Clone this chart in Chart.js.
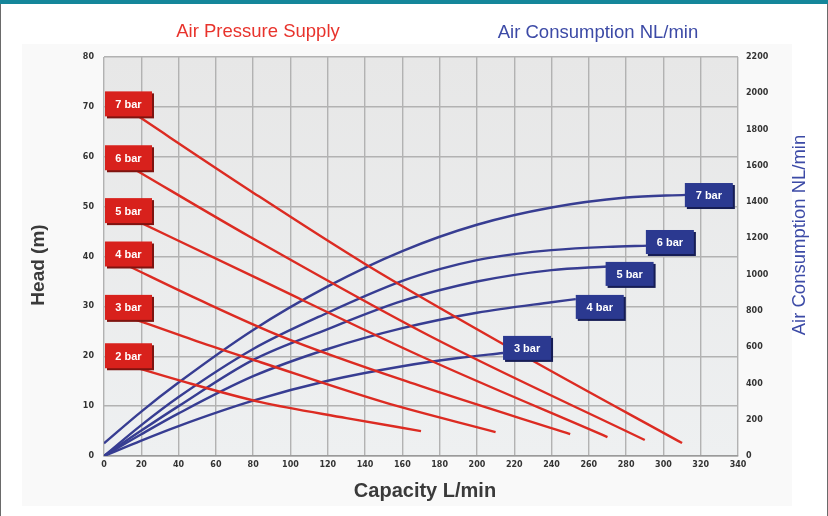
<!DOCTYPE html>
<html>
<head>
<meta charset="utf-8">
<script src="https://cdn.jsdelivr.net/npm/chart.js@4.4.1/dist/chart.umd.min.js"></script>
<style>
  html, body { margin: 0; padding: 0; background: #ffffff; }
  #wrap { position: relative; width: 828px; height: 516px; overflow: hidden; background: #ffffff; }
  #panel { position: absolute; left: 22px; top: 44px; width: 770px; height: 462px; background: #f9f9f9; }
  canvas { position: absolute; left: 0; top: 0; }
  .topbar { position: absolute; left: 0; top: 0; width: 828px; height: 4px; background: #15869a; }
  .lb { position: absolute; left: 0; top: 4px; width: 1px; height: 512px; background: #6a6a6a; }
  .rb { position: absolute; right: 0; top: 4px; width: 1px; height: 512px; background: #6a6a6a; }
</style>
</head>
<body>
<div id="wrap">
  <div id="panel"></div>
  <canvas id="c" width="828" height="516"></canvas>
  <div class="topbar"></div>
  <div class="lb"></div>
  <div class="rb"></div>
</div>
<script>
// ---- Tick labels / axes ----
const capacityTicks = [0,20,40,60,80,100,120,140,160,180,200,220,240,260,280,300,320,340];
const headTicks = [0,10,20,30,40,50,60,70,80];
const airTicks = [0,200,400,600,800,1000,1200,1400,1600,1800,2000,2200];
const pressureNames = ['2 bar','3 bar','4 bar','5 bar','6 bar','7 bar'];

// ---- Head (m) vs Capacity (L/min), per air pressure ----
const head2 = [[12,18.3],[40,15.2],[84,10.8],[130,7.6],[170,5.0]];
const head3 = [[12,28.0],[50,23.0],[84,18.8],[150,10.8],[210,4.8]];
const head4 = [[12,38.3],[50,31.5],[95,24.0],[170,14.0],[250,4.4]];
const head5 = [[14,47.8],[80,36.0],[170,20.0],[270,3.8]];
const head6 = [[14,58.0],[78,44.0],[175,24.0],[290,3.2]];
const head7 = [[14,69.2],[78,53.3],[140,38.5],[228,19.5],[310,2.6]];

// ---- Air consumption (NL/min) vs Capacity (L/min), per air pressure ----
const air3 = [[0,0],[20,85],[40,165],[80,305],[120,415],[160,495],[190,540],[214,568]];
const air4 = [[0,0],[20,120],[40,235],[80,440],[120,590],[160,705],[200,790],[240,848],[253,865]];
const air5 = [[0,0],[20,140],[40,275],[80,530],[120,700],[160,855],[200,962],[240,1025],[270,1045]];
const air6 = [[0,0],[20,170],[40,325],[80,590],[120,790],[160,965],[180,1030],[200,1080],[220,1113],[240,1135],[270,1153],[292,1160]];
const air7 = [[0,70],[20,245],[40,405],[80,695],[120,935],[160,1130],[200,1275],[240,1370],[280,1425],[312,1440]];

// ---- Label anchors ----
const redLabelHead = [20.2, 29.9, 40.6, 49.3, 59.9, 70.7];     // 2..7 bar, at capacity 0
const blueLabelCap = [214, 253, 269, 290.6, 311.5];             // 3..7 bar, left edge
const blueLabelAir = [596, 822, 1004, 1180, 1439];              // 3..7 bar, centre

const RED = '#dc2b22';
const BLUE = '#373d92';

const toPts = a => a.map(p => ({x: p[0], y: p[1]}));
const headSeries = [head2, head3, head4, head5, head6, head7];
const airSeries = [air3, air4, air5, air6, air7];

const datasets = [];
headSeries.forEach((s, i) => datasets.push({
  label: 'Head ' + pressureNames[i], data: toPts(s), yAxisID: 'y',
  borderColor: RED, borderWidth: 2.4, pointRadius: 0, fill: false,
  cubicInterpolationMode: 'monotone'
}));
airSeries.forEach((s, i) => datasets.push({
  label: 'Air ' + pressureNames[i + 1], data: toPts(s), yAxisID: 'y2',
  borderColor: BLUE, borderWidth: 2.4, pointRadius: 0, fill: false,
  cubicInterpolationMode: 'monotone'
}));

const tickFont = { family: 'DejaVu Sans', size: 8, weight: 'bold' };

const bgPlugin = {
  id: 'bg',
  beforeDraw(chart) {
    const {ctx, chartArea: a} = chart;
    ctx.save();
    const g = ctx.createLinearGradient(0, a.top, 0, a.bottom);
    g.addColorStop(0, '#e7e7e7');
    g.addColorStop(1, '#eef0f1');
    ctx.fillStyle = g;
    ctx.fillRect(a.left, a.top, a.right - a.left, a.bottom - a.top);
    ctx.restore();
  }
};

function box(ctx, x, y, w, h, fill, shadow, text) {
  ctx.fillStyle = shadow;
  ctx.fillRect(x + 2, y + 2, w, h);
  ctx.fillStyle = fill;
  ctx.fillRect(x, y, w, h);
  ctx.fillStyle = '#ffffff';
  ctx.font = 'bold 11px "Liberation Sans", Arial, sans-serif';
  ctx.textAlign = 'center';
  ctx.textBaseline = 'middle';
  ctx.fillText(text, x + w / 2, y + h / 2 + 1);
}

const labelPlugin = {
  id: 'labels',
  afterDatasetsDraw(chart) {
    const {ctx} = chart;
    const xs = chart.scales.x, ys = chart.scales.y, y2 = chart.scales.y2;
    ctx.save();
    redLabelHead.forEach((h, i) => {
      const px = xs.getPixelForValue(0);
      const py = ys.getPixelForValue(h);
      box(ctx, px + 1, py - 12, 47, 25, '#d8211c', '#7e1410', pressureNames[i]);
    });
    blueLabelCap.forEach((c, i) => {
      const px = xs.getPixelForValue(c);
      const py = y2.getPixelForValue(blueLabelAir[i]);
      box(ctx, px, py - 12, 48, 24, '#2b3990', '#161d55', pressureNames[i + 1]);
    });
    ctx.restore();
  }
};

const titlePlugin = {
  id: 'titles',
  afterDraw(chart) {
    const {ctx} = chart;
    ctx.save();
    ctx.textAlign = 'center';
    ctx.textBaseline = 'middle';
    ctx.font = '18.5px "Liberation Sans", Arial, sans-serif';
    ctx.fillStyle = '#e8332c';
    ctx.fillText('Air Pressure Supply', 258, 32);
    ctx.fillStyle = '#3c4aa6';
    ctx.fillText('Air Consumption NL/min', 598, 33);
    ctx.fillStyle = '#3a3a3a';
    ctx.font = 'bold 20px "Liberation Sans", Arial, sans-serif';
    ctx.fillText('Capacity L/min', 425, 491);
    ctx.save();
    ctx.translate(39, 265);
    ctx.rotate(-Math.PI / 2);
    ctx.font = 'bold 19px "Liberation Sans", Arial, sans-serif';
    ctx.fillText('Head (m)', 0, 0);
    ctx.restore();
    ctx.save();
    ctx.translate(800, 235);
    ctx.rotate(-Math.PI / 2);
    ctx.font = '18.5px "Liberation Sans", Arial, sans-serif';
    ctx.fillStyle = '#3c4aa6';
    ctx.fillText('Air Consumption NL/min', 0, 0);
    ctx.restore();
    ctx.restore();
  }
};

new Chart(document.getElementById('c'), {
  type: 'line',
  data: { datasets },
  plugins: [bgPlugin, labelPlugin, titlePlugin],
  options: {
    responsive: false,
    animation: false,
    layout: { padding: { top: 57, left: 0, right: 0, bottom: 0 } },
    plugins: { legend: { display: false }, tooltip: { enabled: false } },
    scales: {
      x: {
        type: 'linear', min: 0, max: 340,
        afterBuildTicks: s => { s.ticks = capacityTicks.map(v => ({value: v})); },
        afterFit: s => { s.height = 60; },
        ticks: { color: '#333', font: tickFont, padding: 4, maxRotation: 0, callback: v => String(v) },
        grid: { color: '#b2b2b2', lineWidth: 1.4, drawTicks: false },
        border: { color: '#9a9a9a', width: 1.4 }
      },
      y: {
        type: 'linear', position: 'left', min: 0, max: 80,
        afterBuildTicks: s => { s.ticks = headTicks.map(v => ({value: v})); },
        afterFit: s => { s.width = 104; },
        ticks: { color: '#333', font: tickFont, padding: 10, callback: v => String(v) },
        grid: { color: '#b2b2b2', lineWidth: 1.4, drawTicks: false },
        border: { display: false }
      },
      y2: {
        type: 'linear', position: 'right', min: 0, max: 2200,
        afterBuildTicks: s => { s.ticks = airTicks.map(v => ({value: v})); },
        afterFit: s => { s.width = 90; },
        ticks: { color: '#333', font: tickFont, padding: 8, callback: v => String(v) },
        grid: { display: false, drawTicks: false },
        border: { display: false }
      }
    }
  }
});
</script>
</body>
</html>
